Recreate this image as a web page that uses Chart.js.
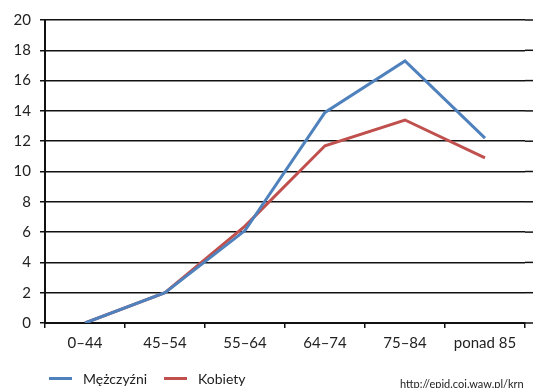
<!DOCTYPE html>
<html>
<head>
<meta charset="utf-8">
<script src="https://cdn.jsdelivr.net/npm/chart.js@4"></script>
<style>
  body { margin: 0; background: #fff; font-family: Lato, sans-serif; color: #222; }
  #wrap { position: relative; width: 533px; height: 388px; overflow: hidden; }
  #legend { position: absolute; left: 49px; top: 370px; display: flex; align-items: center; font-size: 14px; }
  #legend .item { display: flex; align-items: center; width: 115px; white-space: nowrap; }
  #legend .mark { display: inline-block; width: 23px; height: 3px; margin-right: 11px; }
  #source { position: absolute; left: 400px; top: 377px; font-size: 11px; white-space: nowrap; }
</style>
</head>
<body>
<div id="wrap">
  <canvas id="chart"></canvas>
  <div id="legend"></div>
  <div id="source"></div>
</div>
<script>
const categories = ['0–44', '45–54', '55–64', '64–74', '75–84', 'ponad 85'];
const menValues = [0, 2, 6.1, 13.9, 17.3, 12.2];
const womenValues = [0, 2, 6.4, 11.7, 13.4, 10.9];
const sourceText = 'http://epid.coi.waw.pl/krn';

// grid lines run on past the plot to the right edge
const gridExtend = {
    id: 'gridExtend',
    beforeDatasetsDraw(chart) {
        const ctx = chart.ctx;
        const y = chart.scales.y;
        ctx.save();
        ctx.strokeStyle = '#111';
        ctx.lineWidth = 1.5;
        y.ticks.forEach((t, i) => {
            const py = y.getPixelForTick(i);
            ctx.beginPath();
            ctx.moveTo(chart.chartArea.right, py);
            ctx.lineTo(chart.width, py);
            ctx.stroke();
        });
        ctx.restore();
    }
};

const chart = new Chart(document.getElementById('chart'), {
    type: 'line',
    data: {
        labels: categories,
        datasets: [{
            label: 'Mężczyźni',
            data: menValues,
            borderColor: '#4f81bd',
            backgroundColor: '#4f81bd',
            borderWidth: 3,
            pointRadius: 0,
            tension: 0
        }, {
            label: 'Kobiety',
            data: womenValues,
            borderColor: '#c0504d',
            backgroundColor: '#c0504d',
            borderWidth: 3,
            pointRadius: 0,
            tension: 0
        }]
    },
    options: {
        responsive: true,
        maintainAspectRatio: false,
        animation: false,
        layout: { padding: { top: 20, right: 8, left: 0, bottom: 0 } },
        plugins: {
            tooltip: { enabled: false },
            legend: { display: false }
        },
        scales: {
            x: {
                offset: true,
                afterFit: s => { s.height = 65; },
                grid: {
                    offset: true,
                    drawOnChartArea: false,
                    color: '#111',
                    lineWidth: 1.5,
                    tickLength: 5
                },
                border: { color: '#111', width: 2 },
                ticks: {
                    color: '#222',
                    padding: 6,
                    maxRotation: 0,
                    font: { family: 'Lato', size: 15 }
                }
            },
            y: {
                min: 0,
                max: 20,
                afterFit: s => { s.width = 45; },
                ticks: {
                    stepSize: 2,
                    color: '#222',
                    padding: 9,
                    font: { family: 'Lato', size: 15 }
                },
                grid: {
                    color: '#111',
                    lineWidth: 1.5,
                    tickLength: 5
                },
                border: { color: '#111', width: 2 }
            }
        }
    },
    plugins: [gridExtend]
});

// legend below the chart
const legend = document.getElementById('legend');
chart.data.datasets.forEach(ds => {
    const item = document.createElement('span');
    item.className = 'item';
    const mark = document.createElement('span');
    mark.className = 'mark';
    mark.style.background = ds.borderColor;
    item.appendChild(mark);
    item.appendChild(document.createTextNode(ds.label));
    legend.appendChild(item);
});
document.getElementById('source').textContent = sourceText;
</script>
</body>
</html>
